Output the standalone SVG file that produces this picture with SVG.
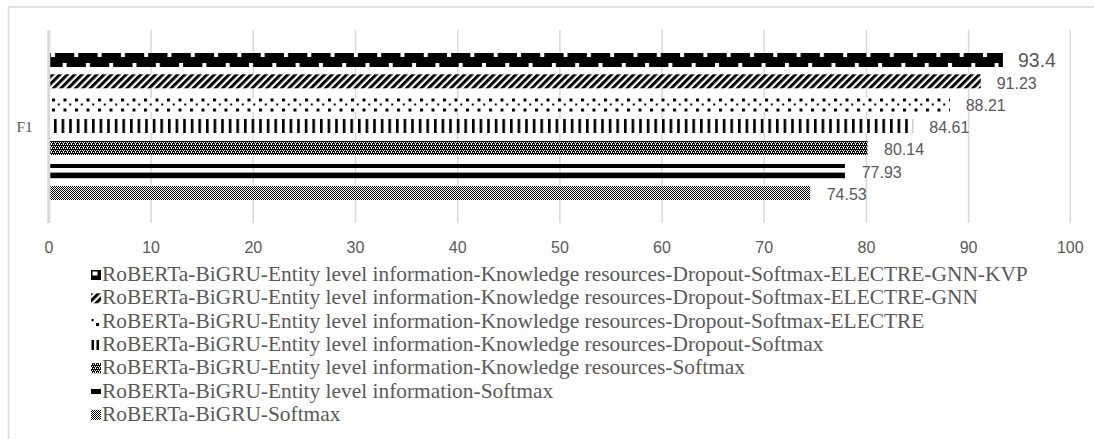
<svg xmlns="http://www.w3.org/2000/svg" width="1094" height="439" viewBox="0 0 1094 439">
<style>
.grid{stroke:#d9d9d9;stroke-width:1.5;fill:none}
.val{font-family:"Liberation Sans",Arial,sans-serif;font-size:16px;fill:#595959}
.tick{font-family:"Liberation Sans",Arial,sans-serif;font-size:16px;fill:#595959;text-anchor:middle}
.leg{font-family:"Liberation Serif","Times New Roman",serif;font-size:21.4px;fill:#595959}
.cat{font-family:"Liberation Serif","Times New Roman",serif;font-size:15.5px;fill:#595959}
</style>
<defs>
<pattern id="p1" patternUnits="userSpaceOnUse" x="50" y="53" width="23.3" height="14">
<rect width="23.3" height="14" fill="#000"/>
<rect x="1" y="0" width="4" height="4" fill="#fff"/>
<rect x="12.6" y="10" width="4" height="4" fill="#fff"/>
</pattern>
<pattern id="p2" patternUnits="userSpaceOnUse" width="5.2" height="5.2" patternTransform="rotate(45)">
<rect width="5.2" height="5.2" fill="#fff"/>
<rect width="3" height="5.2" fill="#000"/>
</pattern>
<pattern id="p3" patternUnits="userSpaceOnUse" x="52" y="98" width="11.5" height="14">
<rect width="11.5" height="14" fill="#fff"/>
<rect x="0" y="0.5" width="3" height="3" fill="#000"/>
<rect x="5.75" y="5.5" width="2" height="2" fill="#000"/>
<rect x="0" y="10.5" width="3" height="3" fill="#000"/>
</pattern>
<pattern id="p4" patternUnits="userSpaceOnUse" x="54" y="119" width="7.6" height="14">
<rect width="7.6" height="14" fill="#fff"/>
<rect width="2.6" height="14" fill="#000"/>
</pattern>
<pattern id="p5" patternUnits="userSpaceOnUse" width="4" height="4">
<rect width="4" height="4" fill="#000"/>
<rect x="1" y="0" width="1" height="1" fill="#fff"/>
<rect x="3" y="0" width="1" height="1" fill="#fff"/>
<rect x="0" y="2" width="1" height="1" fill="#fff"/>
<rect x="2" y="2" width="1" height="1" fill="#fff"/>
<rect x="3" y="3" width="1" height="1" fill="#fff"/>
</pattern>
<pattern id="p7" patternUnits="userSpaceOnUse" width="2" height="2">
<rect width="2" height="2" fill="#fff"/>
<rect x="0" y="0" width="1" height="1" fill="#000"/>
<rect x="1" y="1" width="1" height="1" fill="#000"/>
</pattern>
</defs>
<rect width="1094" height="439" fill="#fff"/>
<rect id="frame" x="8.5" y="7" width="1100" height="450" fill="none" stroke="#d9d9d9" stroke-width="1.5"/>
<g id="grid">
<line class="grid" x1="151.1" y1="30" x2="151.1" y2="223"/>
<line class="grid" x1="253.3" y1="30" x2="253.3" y2="223"/>
<line class="grid" x1="355.5" y1="30" x2="355.5" y2="223"/>
<line class="grid" x1="457.7" y1="30" x2="457.7" y2="223"/>
<line class="grid" x1="559.9" y1="30" x2="559.9" y2="223"/>
<line class="grid" x1="662" y1="30" x2="662" y2="223"/>
<line class="grid" x1="764.2" y1="30" x2="764.2" y2="223"/>
<line class="grid" x1="866.4" y1="30" x2="866.4" y2="223"/>
<line class="grid" x1="968.6" y1="30" x2="968.6" y2="223"/>
<line class="grid" x1="1070.3" y1="30" x2="1070.3" y2="223"/>
<line x1="48.8" y1="30" x2="48.8" y2="223" stroke="#d9d9d9" stroke-width="3"/>
</g>
<g id="axis-labels">
<text class="tick" x="49" y="253">0</text>
<text class="tick" x="151.1" y="253">10</text>
<text class="tick" x="253.3" y="253">20</text>
<text class="tick" x="355.5" y="253">30</text>
<text class="tick" x="457.7" y="253">40</text>
<text class="tick" x="559.9" y="253">50</text>
<text class="tick" x="662" y="253">60</text>
<text class="tick" x="764.2" y="253">70</text>
<text class="tick" x="866.4" y="253">80</text>
<text class="tick" x="968.6" y="253">90</text>
<text class="tick" x="1070.3" y="253">100</text>
<text class="cat" x="16.5" y="132">F1</text>
</g>
<g id="bars">
<rect x="50.3" y="53" width="952.6" height="14" fill="url(#p1)"/>
<rect x="50.3" y="74.3" width="930.4" height="14" fill="url(#p2)"/>
<rect x="50.3" y="98" width="899.6" height="14" fill="url(#p3)"/>
<rect x="50.3" y="119" width="862.8" height="14" fill="url(#p4)"/>
<rect x="50.3" y="141" width="817.2" height="14" fill="url(#p5)"/>
<rect x="50.3" y="164" width="794.6" height="4" fill="#000"/>
<rect x="50.3" y="172.6" width="794.6" height="5.6" fill="#000"/>
<rect x="50.3" y="186" width="759.9" height="14" fill="url(#p7)"/>
</g>
<g id="values">
<text class="val" x="1018" y="66.6" style="font-size:19.5px">93.4</text>
<text class="val" x="996.7" y="89">91.23</text>
<text class="val" x="965.7" y="111">88.21</text>
<text class="val" x="929.3" y="132.7">84.61</text>
<text class="val" x="884" y="155">80.14</text>
<text class="val" x="861.7" y="178.3">77.93</text>
<text class="val" x="826.7" y="200">74.53</text>
</g>
<g id="legend">
<g id="leg1">
<rect x="91" y="270" width="10" height="10" fill="#000"/>
<rect x="92.5" y="271.5" width="5" height="4" fill="#fff"/>
<text class="leg" x="102" y="281">RoBERTa-BiGRU-Entity level information-Knowledge resources-Dropout-Softmax-ELECTRE-GNN-KVP</text>
</g>
<g id="leg2">
<rect x="91" y="293.3" width="10" height="10" fill="url(#p2)"/>
<text class="leg" x="102" y="304.3">RoBERTa-BiGRU-Entity level information-Knowledge resources-Dropout-Softmax-ELECTRE-GNN</text>
</g>
<g id="leg3">
<rect x="91.5" y="319" width="2.2" height="2.2" fill="#000"/>
<rect x="96" y="323" width="3" height="3" fill="#000"/>
<text class="leg" x="102" y="327.6">RoBERTa-BiGRU-Entity level information-Knowledge resources-Dropout-Softmax-ELECTRE</text>
</g>
<g id="leg4">
<rect x="91.5" y="340" width="2.5" height="10" fill="#000"/>
<rect x="96.5" y="340" width="2.5" height="10" fill="#000"/>
<text class="leg" x="102" y="351">RoBERTa-BiGRU-Entity level information-Knowledge resources-Dropout-Softmax</text>
</g>
<g id="leg5">
<rect x="91" y="363.2" width="10" height="10" fill="url(#p5)"/>
<text class="leg" x="102" y="374.2">RoBERTa-BiGRU-Entity level information-Knowledge resources-Softmax</text>
</g>
<g id="leg6">
<rect x="91" y="389" width="10" height="5" fill="#000"/>
<text class="leg" x="102" y="397.5">RoBERTa-BiGRU-Entity level information-Softmax</text>
</g>
<g id="leg7">
<rect x="91" y="409.8" width="10" height="10" fill="url(#p7)"/>
<text class="leg" x="102" y="420.8">RoBERTa-BiGRU-Softmax</text>
</g>
</g>
</svg>
